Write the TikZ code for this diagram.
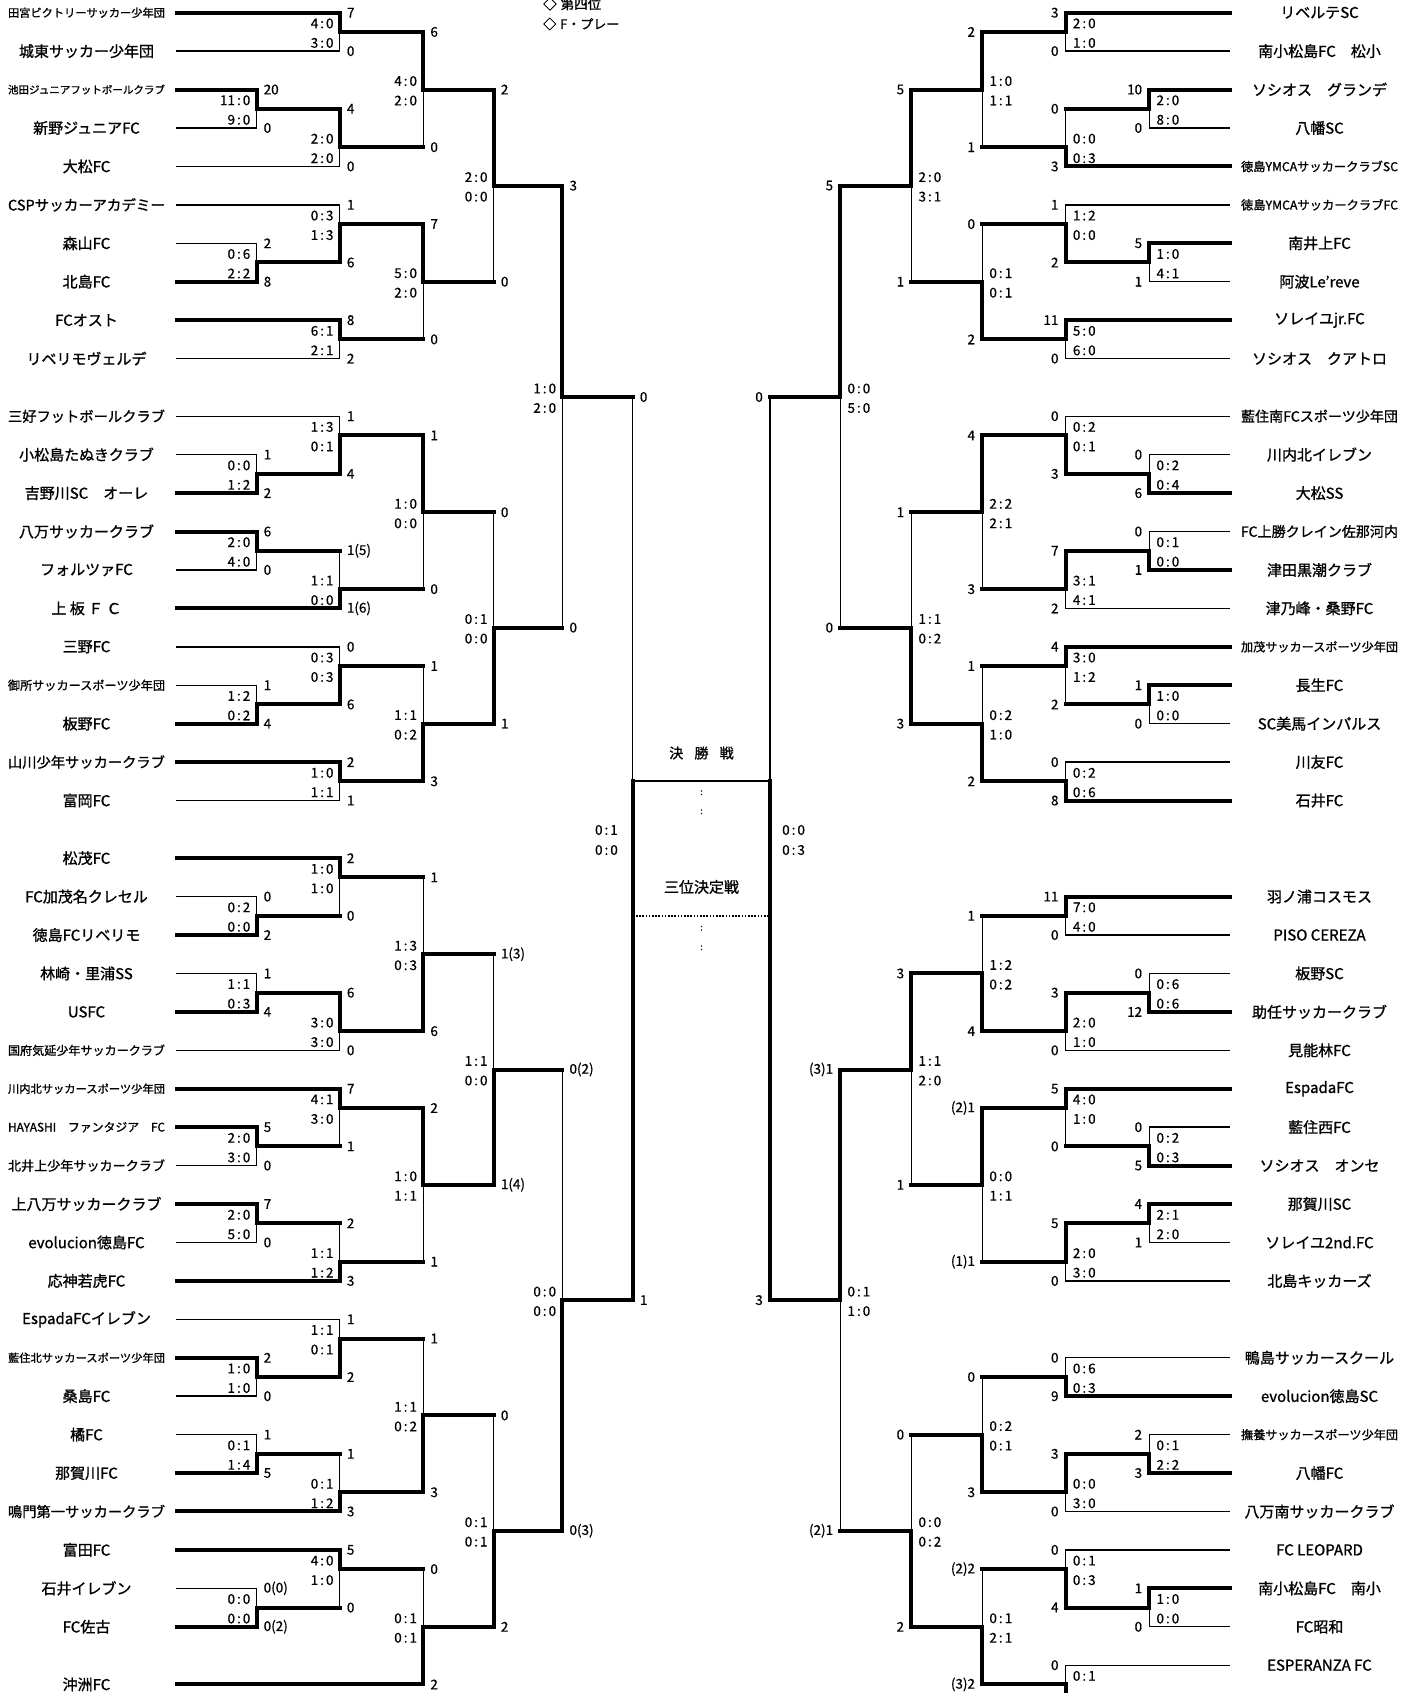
\documentclass[tikz,border=0pt]{standalone}
\usepackage{fontspec}
\setmainfont{Noto Sans CJK JP}[FakeBold=0.5]
\newfontfamily\nmfont{Noto Sans CJK JP}[FakeBold=1.1]
\usepackage{graphicx}
\newsavebox\nmbox
\newcommand\fitname[1]{\sbox\nmbox{\nmfont\fontsize{15}{15}\selectfont #1}\ifdim\wd\nmbox>157pt\resizebox{157pt}{!}{\usebox\nmbox}\else\usebox\nmbox\fi}
\newcommand\ky[1]{(12.7+38.43*(#1))}
\def\fmtsc#1:#2\relax{#1\kern2pt:\kern2pt#2}
\newcounter{nn}
\def\xlz{177}\def\xla{256.5}\def\xlb{339.7}\def\xlc{423.2}\def\xld{493.7}\def\xle{562.3}\def\xlf{632.7}
\def\xrz{1229.7}\def\xra{1149.3}\def\xrb{1065.7}\def\xrc{982.2}\def\xrd{911.3}\def\xre{840.3}\def\xrf{770}
\tikzset{
  ll/.style={line width=1.4pt,line cap=rect},
  wl/.style={line width=4pt,line cap=rect,line join=miter},
  num/.style={font=\fontsize{13.5}{13.5}\selectfont,inner sep=0pt},
  tname/.style={inner sep=0pt,anchor=center},
}
\newcommand\LT[5]{%
  \node[tname] (#4) at (86.5,{\ky{#1}}) {\fitname{#5}};
  \draw[#2] (\xlz,{\ky{#1}}) -- (#3,{\ky{#1}});
}
\newcommand\RT[5]{%
  \node[tname] (#4) at (1319.5,{\ky{#1}}) {\fitname{#5}};
  \draw[#2] (\xrz,{\ky{#1}}) -- (#3,{\ky{#1}});
}
% X, Xnext, ktop, kbot, kout, kwin
\newcommand\M[6]{%
  \draw[ll] (#1,{\ky{#3}}) -- (#1,{\ky{#4}});
  \draw[wl] (#1,{\ky{#6}}) -- (#1,{\ky{#5}}) -- (#2,{\ky{#5}});
}
% X, ktop, kbot, kout, stop, sbot, s1, s2
\newcommand\LS[8]{%
  \stepcounter{nn}\node[num,anchor=west] (n\arabic{nn}) at ({#1+7},{\ky{#2}}) {#5};
  \stepcounter{nn}\node[num,anchor=west] (n\arabic{nn}) at ({#1+7},{\ky{#3}}) {#6};
  \stepcounter{nn}\node[num,anchor=east] (n\arabic{nn}) at ({#1-6},{\ky{#4}-8.5}) {\fmtsc#7\relax};
  \stepcounter{nn}\node[num,anchor=east] (n\arabic{nn}) at ({#1-6},{\ky{#4}+11}) {\fmtsc#8\relax};
}
\newcommand\RS[8]{%
  \stepcounter{nn}\node[num,anchor=east] (n\arabic{nn}) at ({#1-7},{\ky{#2}}) {#5};
  \stepcounter{nn}\node[num,anchor=east] (n\arabic{nn}) at ({#1-7},{\ky{#3}}) {#6};
  \stepcounter{nn}\node[num,anchor=west] (n\arabic{nn}) at ({#1+7},{\ky{#4}-8.5}) {\fmtsc#7\relax};
  \stepcounter{nn}\node[num,anchor=west] (n\arabic{nn}) at ({#1+7},{\ky{#4}+11}) {\fmtsc#8\relax};
}
\begin{document}
\begin{tikzpicture}[x=1pt,y=-1pt]
\useasboundingbox (0,0) rectangle (1416,1693);
\clip (0,0) rectangle (1416,1693);
\fill[white] (0,0) rectangle (1416,1693);
% ---------- header ----------
\node[anchor=west,inner sep=0pt,font=\nmfont\fontsize{13.5}{13.5}\selectfont] (hd1) at (543,4) {◇\hspace{4pt}第四位};
\node[anchor=west,inner sep=0pt,font=\nmfont\fontsize{13}{13}\selectfont] (hd2) at (543,24) {◇\hspace{4pt}F・プレー};
% ---------- left teams ----------
\LT{0}{wl}{\xlb}{lt0}{田宮ビクトリーサッカー少年団}
\LT{1}{ll}{\xlb}{lt1}{城東サッカー少年団}
\LT{2}{wl}{\xla}{lt2}{池田ジュニアフットボールクラブ}
\LT{3}{ll}{\xla}{lt3}{新野ジュニアFC}
\LT{4}{ll}{\xlb}{lt4}{大松FC}
\LT{5}{ll}{\xlb}{lt5}{CSPサッカーアカデミー}
\LT{6}{ll}{\xla}{lt6}{森山FC}
\LT{7}{wl}{\xla}{lt7}{北島FC}
\LT{8}{wl}{\xlb}{lt8}{FCオスト}
\LT{9}{ll}{\xlb}{lt9}{リベリモヴェルデ}
\LT{10.5}{ll}{\xlb}{lt10}{三好フットボールクラブ}
\LT{11.5}{ll}{\xla}{lt11}{小松島たぬきクラブ}
\LT{12.5}{wl}{\xla}{lt12}{吉野川SC　オーレ}
\LT{13.5}{wl}{\xla}{lt13}{八万サッカークラブ}
\LT{14.5}{ll}{\xla}{lt14}{フォルツァFC}
\LT{15.5}{wl}{\xlb}{lt15}{上 板 Ｆ Ｃ}
\LT{16.5}{ll}{\xlb}{lt16}{三野FC}
\LT{17.5}{ll}{\xla}{lt17}{御所サッカースポーツ少年団}
\LT{18.5}{wl}{\xla}{lt18}{板野FC}
\LT{19.5}{wl}{\xlb}{lt19}{山川少年サッカークラブ}
\LT{20.5}{ll}{\xlb}{lt20}{富岡FC}
\LT{22}{wl}{\xlb}{lt22}{松茂FC}
\LT{23}{ll}{\xla}{lt23}{FC加茂名クレセル}
\LT{24}{wl}{\xla}{lt24}{徳島FCリベリモ}
\LT{25}{ll}{\xla}{lt25}{林崎・里浦SS}
\LT{26}{wl}{\xla}{lt26}{USFC}
\LT{27}{ll}{\xlb}{lt27}{国府気延少年サッカークラブ}
\LT{28}{wl}{\xlb}{lt28}{川内北サッカースポーツ少年団}
\LT{29}{wl}{\xla}{lt29}{HAYASHI　ファンタジア　FC}
\LT{30}{ll}{\xla}{lt30}{北井上少年サッカークラブ}
\LT{31}{wl}{\xla}{lt31}{上八万サッカークラブ}
\LT{32}{ll}{\xla}{lt32}{evolucion徳島FC}
\LT{33}{wl}{\xlb}{lt33}{応神若虎FC}
\LT{34}{ll}{\xlb}{lt34}{EspadaFCイレブン}
\LT{35}{wl}{\xla}{lt35}{藍住北サッカースポーツ少年団}
\LT{36}{ll}{\xla}{lt36}{桑島FC}
\LT{37}{ll}{\xla}{lt37}{橘FC}
\LT{38}{wl}{\xla}{lt38}{那賀川FC}
\LT{39}{wl}{\xlb}{lt39}{鳴門第一サッカークラブ}
\LT{40}{wl}{\xlb}{lt40}{富田FC}
\LT{41}{ll}{\xla}{lt41}{石井イレブン}
\LT{42}{wl}{\xla}{lt42}{FC佐古}
\LT{43.5}{wl}{\xlc}{lt43}{沖洲FC}
% ---------- left matches ----------
\M{\xlb}{\xlc}{0}{1}{0.5}{0}        \LS{\xlb}{0}{1}{0.5}{7}{0}{4:0}{3:0}
\M{\xla}{\xlb}{2}{3}{2.5}{2}        \LS{\xla}{2}{3}{2.5}{20}{0}{11:0}{9:0}
\M{\xlb}{\xlc}{2.5}{4}{3.5}{2.5}    \LS{\xlb}{2.5}{4}{3.5}{4}{0}{2:0}{2:0}
\M{\xlc}{\xld}{0.5}{3.5}{2}{0.5}    \LS{\xlc}{0.5}{3.5}{2}{6}{0}{4:0}{2:0}
\M{\xla}{\xlb}{6}{7}{6.5}{7}        \LS{\xla}{6}{7}{6.5}{2}{8}{0:6}{2:2}
\M{\xlb}{\xlc}{5}{6.5}{5.5}{6.5}    \LS{\xlb}{5}{6.5}{5.5}{1}{6}{0:3}{1:3}
\M{\xlb}{\xlc}{8}{9}{8.5}{8}        \LS{\xlb}{8}{9}{8.5}{8}{2}{6:1}{2:1}
\M{\xlc}{\xld}{5.5}{8.5}{7}{5.5}    \LS{\xlc}{5.5}{8.5}{7}{7}{0}{5:0}{2:0}
\M{\xld}{\xle}{2}{7}{4.5}{2}        \LS{\xld}{2}{7}{4.5}{2}{0}{2:0}{0:0}
\M{\xla}{\xlb}{11.5}{12.5}{12}{12.5} \LS{\xla}{11.5}{12.5}{12}{1}{2}{0:0}{1:2}
\M{\xlb}{\xlc}{10.5}{12}{11}{12}    \LS{\xlb}{10.5}{12}{11}{1}{4}{1:3}{0:1}
\M{\xla}{\xlb}{13.5}{14.5}{14}{13.5} \LS{\xla}{13.5}{14.5}{14}{6}{0}{2:0}{4:0}
\M{\xlb}{\xlc}{14}{15.5}{15}{15.5}  \LS{\xlb}{14}{15.5}{15}{1(5)}{1(6)}{1:1}{0:0}
\M{\xlc}{\xld}{11}{15}{13}{11}      \LS{\xlc}{11}{15}{13}{1}{0}{1:0}{0:0}
\M{\xla}{\xlb}{17.5}{18.5}{18}{18.5} \LS{\xla}{17.5}{18.5}{18}{1}{4}{1:2}{0:2}
\M{\xlb}{\xlc}{16.5}{18}{17}{18}    \LS{\xlb}{16.5}{18}{17}{0}{6}{0:3}{0:3}
\M{\xlb}{\xlc}{19.5}{20.5}{20}{19.5} \LS{\xlb}{19.5}{20.5}{20}{2}{1}{1:0}{1:1}
\M{\xlc}{\xld}{17}{20}{18.5}{20}    \LS{\xlc}{17}{20}{18.5}{1}{3}{1:1}{0:2}
\M{\xld}{\xle}{13}{18.5}{16}{18.5}  \LS{\xld}{13}{18.5}{16}{0}{1}{0:1}{0:0}
\M{\xle}{\xlf}{4.5}{16}{10}{4.5}    \LS{\xle}{4.5}{16}{10}{3}{0}{1:0}{2:0}
\M{\xla}{\xlb}{23}{24}{23.5}{24}    \LS{\xla}{23}{24}{23.5}{0}{2}{0:2}{0:0}
\M{\xlb}{\xlc}{22}{23.5}{22.5}{22}  \LS{\xlb}{22}{23.5}{22.5}{2}{0}{1:0}{1:0}
\M{\xla}{\xlb}{25}{26}{25.5}{26}    \LS{\xla}{25}{26}{25.5}{1}{4}{1:1}{0:3}
\M{\xlb}{\xlc}{25.5}{27}{26.5}{25.5} \LS{\xlb}{25.5}{27}{26.5}{6}{0}{3:0}{3:0}
\M{\xlc}{\xld}{22.5}{26.5}{24.5}{26.5} \LS{\xlc}{22.5}{26.5}{24.5}{1}{6}{1:3}{0:3}
\M{\xla}{\xlb}{29}{30}{29.5}{29}    \LS{\xla}{29}{30}{29.5}{5}{0}{2:0}{3:0}
\M{\xlb}{\xlc}{28}{29.5}{28.5}{28}  \LS{\xlb}{28}{29.5}{28.5}{7}{1}{4:1}{3:0}
\M{\xla}{\xlb}{31}{32}{31.5}{31}    \LS{\xla}{31}{32}{31.5}{7}{0}{2:0}{5:0}
\M{\xlb}{\xlc}{31.5}{33}{32.5}{33}  \LS{\xlb}{31.5}{33}{32.5}{2}{3}{1:1}{1:2}
\M{\xlc}{\xld}{28.5}{32.5}{30.5}{28.5} \LS{\xlc}{28.5}{32.5}{30.5}{2}{1}{1:0}{1:1}
\M{\xld}{\xle}{24.5}{30.5}{27.5}{30.5} \LS{\xld}{24.5}{30.5}{27.5}{1(3)}{1(4)}{1:1}{0:0}
\M{\xla}{\xlb}{35}{36}{35.5}{35}    \LS{\xla}{35}{36}{35.5}{2}{0}{1:0}{1:0}
\M{\xlb}{\xlc}{34}{35.5}{34.5}{35.5} \LS{\xlb}{34}{35.5}{34.5}{1}{2}{1:1}{0:1}
\M{\xla}{\xlb}{37}{38}{37.5}{38}    \LS{\xla}{37}{38}{37.5}{1}{5}{0:1}{1:4}
\M{\xlb}{\xlc}{37.5}{39}{38.5}{39}  \LS{\xlb}{37.5}{39}{38.5}{1}{3}{0:1}{1:2}
\M{\xlc}{\xld}{34.5}{38.5}{36.5}{38.5} \LS{\xlc}{34.5}{38.5}{36.5}{1}{3}{1:1}{0:2}
\M{\xla}{\xlb}{41}{42}{41.5}{42}    \LS{\xla}{41}{42}{41.5}{0(0)}{0(2)}{0:0}{0:0}
\M{\xlb}{\xlc}{40}{41.5}{40.5}{40}  \LS{\xlb}{40}{41.5}{40.5}{5}{0}{4:0}{1:0}
\M{\xlc}{\xld}{40.5}{43.5}{42}{43.5} \LS{\xlc}{40.5}{43.5}{42}{0}{2}{0:1}{0:1}
\M{\xld}{\xle}{36.5}{42}{39.5}{42}  \LS{\xld}{36.5}{42}{39.5}{0}{2}{0:1}{0:1}
\M{\xle}{\xlf}{27.5}{39.5}{33.5}{39.5} \LS{\xle}{27.5}{39.5}{33.5}{0(2)}{0(3)}{0:0}{0:0}
% ---------- right teams ----------
\RT{0}{wl}{\xrb}{rt0}{リベルテSC}
\RT{1}{ll}{\xrb}{rt1}{南小松島FC　松小}
\RT{2}{wl}{\xra}{rt2}{ソシオス　グランデ}
\RT{3}{ll}{\xra}{rt3}{八幡SC}
\RT{4}{wl}{\xrb}{rt4}{徳島YMCAサッカークラブSC}
\RT{5}{ll}{\xrb}{rt5}{徳島YMCAサッカークラブFC}
\RT{6}{wl}{\xra}{rt6}{南井上FC}
\RT{7}{ll}{\xra}{rt7}{阿波Le’reve}
\RT{8}{wl}{\xrb}{rt8}{ソレイユjr.FC}
\RT{9}{ll}{\xrb}{rt9}{ソシオス　クアトロ}
\RT{10.5}{ll}{\xrb}{rt10}{藍住南FCスポーツ少年団}
\RT{11.5}{ll}{\xra}{rt11}{川内北イレブン}
\RT{12.5}{wl}{\xra}{rt12}{大松SS}
\RT{13.5}{ll}{\xra}{rt13}{FC上勝クレイン佐那河内}
\RT{14.5}{wl}{\xra}{rt14}{津田黒潮クラブ}
\RT{15.5}{ll}{\xrb}{rt15}{津乃峰・桑野FC}
\RT{16.5}{wl}{\xrb}{rt16}{加茂サッカースポーツ少年団}
\RT{17.5}{wl}{\xra}{rt17}{長生FC}
\RT{18.5}{ll}{\xra}{rt18}{SC美馬インパルス}
\RT{19.5}{ll}{\xrb}{rt19}{川友FC}
\RT{20.5}{wl}{\xrb}{rt20}{石井FC}
\RT{23}{wl}{\xrb}{rt23}{羽ノ浦コスモス}
\RT{24}{ll}{\xrb}{rt24}{PISO CEREZA}
\RT{25}{ll}{\xra}{rt25}{板野SC}
\RT{26}{wl}{\xra}{rt26}{助任サッカークラブ}
\RT{27}{ll}{\xrb}{rt27}{見能林FC}
\RT{28}{wl}{\xrb}{rt28}{EspadaFC}
\RT{29}{ll}{\xra}{rt29}{藍住西FC}
\RT{30}{wl}{\xra}{rt30}{ソシオス　オンセ}
\RT{31}{wl}{\xra}{rt31}{那賀川SC}
\RT{32}{ll}{\xra}{rt32}{ソレイユ2nd.FC}
\RT{33}{ll}{\xrb}{rt33}{北島キッカーズ}
\RT{35}{ll}{\xrb}{rt35}{鴨島サッカースクール}
\RT{36}{wl}{\xrb}{rt36}{evolucion徳島SC}
\RT{37}{ll}{\xra}{rt37}{撫養サッカースポーツ少年団}
\RT{38}{wl}{\xra}{rt38}{八幡FC}
\RT{39}{ll}{\xrb}{rt39}{八万南サッカークラブ}
\RT{40}{ll}{\xrb}{rt40}{FC LEOPARD}
\RT{41}{wl}{\xra}{rt41}{南小松島FC　南小}
\RT{42}{ll}{\xra}{rt42}{FC昭和}
\RT{43}{ll}{\xrb}{rt43}{ESPERANZA FC}
\draw[wl] (\xrz,{\ky{44}}) -- (\xrb,{\ky{44}});
% ---------- right matches ----------
\M{\xrb}{\xrc}{0}{1}{0.5}{0}        \RS{\xrb}{0}{1}{0.5}{3}{0}{2:0}{1:0}
\M{\xra}{\xrb}{2}{3}{2.5}{2}        \RS{\xra}{2}{3}{2.5}{10}{0}{2:0}{8:0}
\M{\xrb}{\xrc}{2.5}{4}{3.5}{4}      \RS{\xrb}{2.5}{4}{3.5}{0}{3}{0:0}{0:3}
\M{\xrc}{\xrd}{0.5}{3.5}{2}{0.5}    \RS{\xrc}{0.5}{3.5}{2}{2}{1}{1:0}{1:1}
\M{\xra}{\xrb}{6}{7}{6.5}{6}        \RS{\xra}{6}{7}{6.5}{5}{1}{1:0}{4:1}
\M{\xrb}{\xrc}{5}{6.5}{5.5}{6.5}    \RS{\xrb}{5}{6.5}{5.5}{1}{2}{1:2}{0:0}
\M{\xrb}{\xrc}{8}{9}{8.5}{8}        \RS{\xrb}{8}{9}{8.5}{11}{0}{5:0}{6:0}
\M{\xrc}{\xrd}{5.5}{8.5}{7}{8.5}    \RS{\xrc}{5.5}{8.5}{7}{0}{2}{0:1}{0:1}
\M{\xrd}{\xre}{2}{7}{4.5}{2}        \RS{\xrd}{2}{7}{4.5}{5}{1}{2:0}{3:1}
\M{\xra}{\xrb}{11.5}{12.5}{12}{12.5} \RS{\xra}{11.5}{12.5}{12}{0}{6}{0:2}{0:4}
\M{\xrb}{\xrc}{10.5}{12}{11}{12}    \RS{\xrb}{10.5}{12}{11}{0}{3}{0:2}{0:1}
\M{\xra}{\xrb}{13.5}{14.5}{14}{14.5} \RS{\xra}{13.5}{14.5}{14}{0}{1}{0:1}{0:0}
\M{\xrb}{\xrc}{14}{15.5}{15}{14}    \RS{\xrb}{14}{15.5}{15}{7}{2}{3:1}{4:1}
\M{\xrc}{\xrd}{11}{15}{13}{11}      \RS{\xrc}{11}{15}{13}{4}{3}{2:2}{2:1}
\M{\xra}{\xrb}{17.5}{18.5}{18}{17.5} \RS{\xra}{17.5}{18.5}{18}{1}{0}{1:0}{0:0}
\M{\xrb}{\xrc}{16.5}{18}{17}{16.5}  \RS{\xrb}{16.5}{18}{17}{4}{2}{3:0}{1:2}
\M{\xrb}{\xrc}{19.5}{20.5}{20}{20.5} \RS{\xrb}{19.5}{20.5}{20}{0}{8}{0:2}{0:6}
\M{\xrc}{\xrd}{17}{20}{18.5}{20}    \RS{\xrc}{17}{20}{18.5}{1}{2}{0:2}{1:0}
\M{\xrd}{\xre}{13}{18.5}{16}{18.5}  \RS{\xrd}{13}{18.5}{16}{1}{3}{1:1}{0:2}
\M{\xre}{\xrf}{4.5}{16}{10}{4.5}    \RS{\xre}{4.5}{16}{10}{5}{0}{0:0}{5:0}
\M{\xrb}{\xrc}{23}{24}{23.5}{23}    \RS{\xrb}{23}{24}{23.5}{11}{0}{7:0}{4:0}
\M{\xra}{\xrb}{25}{26}{25.5}{26}    \RS{\xra}{25}{26}{25.5}{0}{12}{0:6}{0:6}
\M{\xrb}{\xrc}{25.5}{27}{26.5}{25.5} \RS{\xrb}{25.5}{27}{26.5}{3}{0}{2:0}{1:0}
\M{\xrc}{\xrd}{23.5}{26.5}{25}{26.5} \RS{\xrc}{23.5}{26.5}{25}{1}{4}{1:2}{0:2}
\M{\xra}{\xrb}{29}{30}{29.5}{30}    \RS{\xra}{29}{30}{29.5}{0}{5}{0:2}{0:3}
\M{\xrb}{\xrc}{28}{29.5}{28.5}{28}  \RS{\xrb}{28}{29.5}{28.5}{5}{0}{4:0}{1:0}
\M{\xra}{\xrb}{31}{32}{31.5}{31}    \RS{\xra}{31}{32}{31.5}{4}{1}{2:1}{2:0}
\M{\xrb}{\xrc}{31.5}{33}{32.5}{31.5} \RS{\xrb}{31.5}{33}{32.5}{5}{0}{2:0}{3:0}
\M{\xrc}{\xrd}{28.5}{32.5}{30.5}{28.5} \RS{\xrc}{28.5}{32.5}{30.5}{(2)1}{(1)1}{0:0}{1:1}
\M{\xrd}{\xre}{25}{30.5}{27.5}{25}  \RS{\xrd}{25}{30.5}{27.5}{3}{1}{1:1}{2:0}
\M{\xrb}{\xrc}{35}{36}{35.5}{36}    \RS{\xrb}{35}{36}{35.5}{0}{9}{0:6}{0:3}
\M{\xra}{\xrb}{37}{38}{37.5}{38}    \RS{\xra}{37}{38}{37.5}{2}{3}{0:1}{2:2}
\M{\xrb}{\xrc}{37.5}{39}{38.5}{37.5} \RS{\xrb}{37.5}{39}{38.5}{3}{0}{0:0}{3:0}
\M{\xrc}{\xrd}{35.5}{38.5}{37}{38.5} \RS{\xrc}{35.5}{38.5}{37}{0}{3}{0:2}{0:1}
\M{\xra}{\xrb}{41}{42}{41.5}{41}    \RS{\xra}{41}{42}{41.5}{1}{0}{1:0}{0:0}
\M{\xrb}{\xrc}{40}{41.5}{40.5}{41.5} \RS{\xrb}{40}{41.5}{40.5}{0}{4}{0:1}{0:3}
\M{\xrb}{\xrc}{43}{44}{43.5}{44}
\node[num,anchor=east] (r43s) at ({\xrb-7},{\ky{43}}) {0};
\node[num,anchor=west] (r43m) at ({\xrb+7},{\ky{43.5}-8.5}) {\fmtsc 0:1\relax};
\M{\xrc}{\xrd}{40.5}{43.5}{42}{43.5} \RS{\xrc}{40.5}{43.5}{42}{(2)2}{(3)2}{0:1}{2:1}
\M{\xrd}{\xre}{37}{42}{39.5}{42}    \RS{\xrd}{37}{42}{39.5}{0}{2}{0:0}{0:2}
\M{\xre}{\xrf}{27.5}{39.5}{33.5}{27.5} \RS{\xre}{27.5}{39.5}{33.5}{(3)1}{(2)1}{0:1}{1:0}
% ---------- centre: semifinals, final, third place ----------
\coordinate (fl) at (\xlf,781);
\coordinate (fr) at (\xrf,781);
\coordinate (tl) at (\xlf,916);
\coordinate (tr) at (\xrf,916);
\draw[ll] (\xlf,{\ky{10}}) -- (fl);
\draw[wl] (fl) -- (\xlf,{\ky{33.5}});
\draw[ll] (\xrf,{\ky{10}}) -- (fr);
\draw[wl] (fr) -- (\xrf,{\ky{33.5}});
\draw[line width=2pt] (fl) -- (fr);
\draw[line width=1.5pt,dash pattern=on 1.6pt off 1.6pt] (tl) -- (tr);
\node[num,anchor=west] (sl1) at ({\xlf+7},{\ky{10}}) {0};
\node[num,anchor=west] (sl2) at ({\xlf+7},{\ky{33.5}}) {1};
\node[num,anchor=east] (sl3) at (618,830) {\fmtsc 0:1\relax};
\node[num,anchor=east] (sl4) at (618,850) {\fmtsc 0:0\relax};
\node[num,anchor=east] (sr1) at ({\xrf-7},{\ky{10}}) {0};
\node[num,anchor=east] (sr2) at ({\xrf-7},{\ky{33.5}}) {3};
\node[num,anchor=west] (sr3) at (782,830) {\fmtsc 0:0\relax};
\node[num,anchor=west] (sr4) at (782,850) {\fmtsc 0:3\relax};
\node[inner sep=0pt,font=\nmfont\fontsize{14}{14}\selectfont] (final) at (701.5,753) {決\hspace{0.8em}勝\hspace{0.8em}戦};
\node[inner sep=0pt,font=\nmfont\fontsize{15}{15}\selectfont] (third) at (701.5,887) {三位決定戦};
\node[inner sep=0pt,font=\fontsize{9}{9}\selectfont] (c1) at (701.5,792.7) {:};
\node[inner sep=0pt,font=\fontsize{9}{9}\selectfont] (c2) at (701.5,811.7) {:};
\node[inner sep=0pt,font=\fontsize{9}{9}\selectfont] (c3) at (701.5,928.3) {:};
\node[inner sep=0pt,font=\fontsize{9}{9}\selectfont] (c4) at (701.5,947.7) {:};
\end{tikzpicture}
\end{document}
